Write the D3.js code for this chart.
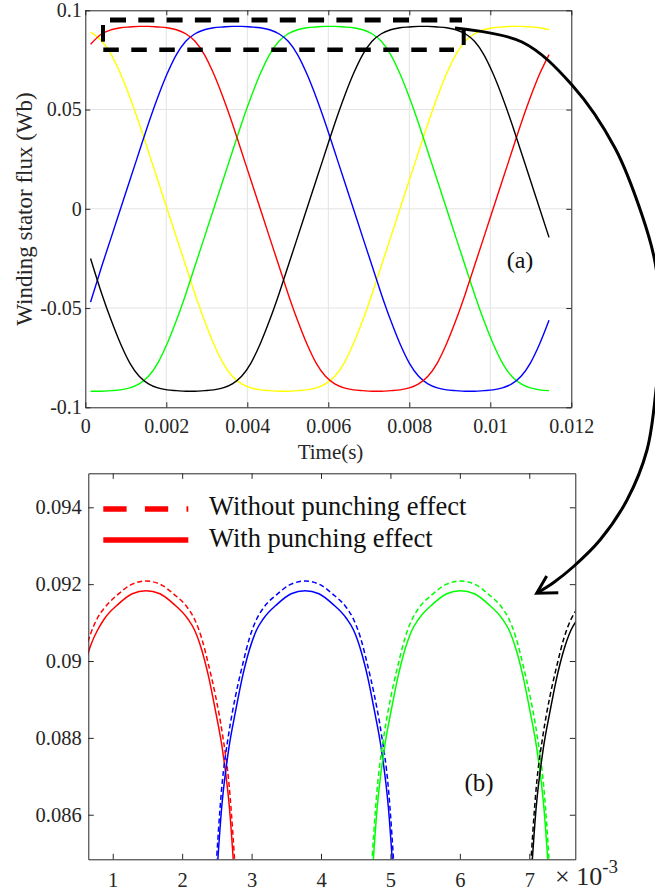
<!DOCTYPE html>
<html><head><meta charset="utf-8">
<script src="https://cdn.jsdelivr.net/npm/d3@7"></script>
<style>
body{margin:0;background:#fff;}
svg{display:block;}
svg text{font-family:"Liberation Serif","DejaVu Serif",serif;}
</style></head><body>
<svg id="c" width="655" height="894"></svg>
<script>
// ---------- Panel (a): winding stator flux vs time ----------
const timeA = [0.13,0.41,0.64,0.87,1.10,1.33,1.56,1.79,2.02,2.25,2.48,2.71,2.94,3.17,3.40,3.63,3.86,4.09,4.32,4.55,4.78,5.01,5.24,5.47,5.70,5.93,6.16,6.39,6.62,6.85,7.08,7.31,7.54,7.77,8.00,8.23,8.46,8.69,8.92,9.15,9.38,9.61,9.84,10.07,10.30,10.53,10.76,10.99,11.22,11.45]; // ms
const fluxRed = [0.0829,0.0882,0.0902,0.0912,0.0916,0.0919,0.0919,0.0916,0.0912,0.0902,0.0882,0.0844,0.0777,0.0680,0.0562,0.0430,0.0287,0.0144,0,-0.0144,-0.0287,-0.0430,-0.0562,-0.0680,-0.0777,-0.0844,-0.0882,-0.0902,-0.0912,-0.0916,-0.0919,-0.0919,-0.0916,-0.0912,-0.0902,-0.0882,-0.0844,-0.0777,-0.0680,-0.0562,-0.0430,-0.0287,-0.0144,0,0.0144,0.0287,0.0430,0.0562,0.0680,0.0777];
const fluxBlue = [-0.0470,-0.0287,-0.0144,0,0.0144,0.0287,0.0430,0.0562,0.0680,0.0777,0.0844,0.0882,0.0902,0.0912,0.0916,0.0919,0.0919,0.0916,0.0912,0.0902,0.0882,0.0844,0.0777,0.0680,0.0562,0.0430,0.0287,0.0144,0,-0.0144,-0.0287,-0.0430,-0.0562,-0.0680,-0.0777,-0.0844,-0.0882,-0.0902,-0.0912,-0.0916,-0.0919,-0.0919,-0.0916,-0.0912,-0.0902,-0.0882,-0.0844,-0.0777,-0.0680,-0.0562];
const fluxGreen = [-0.0919,-0.0919,-0.0916,-0.0912,-0.0902,-0.0882,-0.0844,-0.0777,-0.0680,-0.0562,-0.0430,-0.0287,-0.0144,0,0.0144,0.0287,0.0430,0.0562,0.0680,0.0777,0.0844,0.0882,0.0902,0.0912,0.0916,0.0919,0.0919,0.0916,0.0912,0.0902,0.0882,0.0844,0.0777,0.0680,0.0562,0.0430,0.0287,0.0144,0,-0.0144,-0.0287,-0.0430,-0.0562,-0.0680,-0.0777,-0.0844,-0.0882,-0.0902,-0.0912,-0.0916];
const fluxBlack = [-0.0250,-0.0430,-0.0562,-0.0680,-0.0777,-0.0844,-0.0882,-0.0902,-0.0912,-0.0916,-0.0919,-0.0919,-0.0916,-0.0912,-0.0902,-0.0882,-0.0844,-0.0777,-0.0680,-0.0562,-0.0430,-0.0287,-0.0144,0,0.0144,0.0287,0.0430,0.0562,0.0680,0.0777,0.0844,0.0882,0.0902,0.0912,0.0916,0.0919,0.0919,0.0916,0.0912,0.0902,0.0882,0.0844,0.0777,0.0680,0.0562,0.0430,0.0287,0.0144,0,-0.0144];
const fluxYellow = [0.0890,0.0844,0.0777,0.0680,0.0562,0.0430,0.0287,0.0144,0,-0.0144,-0.0287,-0.0430,-0.0562,-0.0680,-0.0777,-0.0844,-0.0882,-0.0902,-0.0912,-0.0916,-0.0919,-0.0919,-0.0916,-0.0912,-0.0902,-0.0882,-0.0844,-0.0777,-0.0680,-0.0562,-0.0430,-0.0287,-0.0144,0,0.0144,0.0287,0.0430,0.0562,0.0680,0.0777,0.0844,0.0882,0.0902,0.0912,0.0916,0.0919,0.0919,0.0916,0.0912,0.0902];
const xTicksA = [0,0.002,0.004,0.006,0.008,0.01,0.012];
const yTicksA = [-0.1,-0.05,0,0.05,0.1];

// ---------- Panel (b): zoom of the flux peaks (time in 1e-3 s) ----------
const bRedT   = [0.58,0.68,0.78,0.88,1.08,1.28,1.48,1.68,1.88,2.08,2.18,2.28,2.38,2.48,2.58,2.68,2.78];
const bRedWith    = [0.0898,0.0904,0.0908,0.0911,0.09148,0.09175,0.09183,0.09175,0.09148,0.0911,0.0908,0.0903,0.0896,0.0887,0.0877,0.0862,0.0836];
const bRedWithout = [0.0901,0.0907,0.09112,0.09138,0.09174,0.0920,0.09208,0.0920,0.09174,0.09138,0.09108,0.0906,0.0899,0.0891,0.0881,0.0867,0.0841];
const bBlueT  = [2.47,2.57,2.67,2.77,2.87,2.97,3.07,3.17,3.37,3.57,3.77,3.97,4.17,4.37,4.47,4.57,4.67,4.77,4.87,4.97,5.07];
const bBlueWith    = [0.0836,0.0862,0.0877,0.0887,0.0896,0.0903,0.0908,0.0911,0.09148,0.09175,0.09183,0.09175,0.09148,0.0911,0.0908,0.0903,0.0896,0.0887,0.0877,0.0862,0.0836];
const bBlueWithout = [0.0841,0.0867,0.0881,0.0891,0.0899,0.0906,0.09108,0.09138,0.09174,0.0920,0.09208,0.0920,0.09174,0.09138,0.09108,0.0906,0.0899,0.0891,0.0881,0.0867,0.0841];
const bGreenT = [4.71,4.81,4.91,5.01,5.11,5.21,5.31,5.41,5.61,5.81,6.01,6.21,6.41,6.61,6.71,6.81,6.91,7.01,7.11,7.21,7.31];
const bGreenWith    = [0.0836,0.0862,0.0877,0.0887,0.0896,0.0903,0.0908,0.0911,0.09148,0.09175,0.09183,0.09175,0.09148,0.0911,0.0908,0.0903,0.0896,0.0887,0.0877,0.0862,0.0836];
const bGreenWithout = [0.0841,0.0867,0.0881,0.0891,0.0899,0.0906,0.09108,0.09138,0.09174,0.0920,0.09208,0.0920,0.09174,0.09138,0.09108,0.0906,0.0899,0.0891,0.0881,0.0867,0.0841];
const bBlackT = [7.00,7.10,7.20,7.30,7.40,7.50,7.60,7.70];
const bBlackWith    = [0.0836,0.0862,0.0877,0.0887,0.0896,0.0903,0.0908,0.0911];
const bBlackWithout = [0.0841,0.0867,0.0881,0.0891,0.0899,0.0906,0.09108,0.09138];
const xTicksB = [1,2,3,4,5,6,7];
const yTicksB = [0.086,0.088,0.09,0.092,0.094];
const legendLabels = ["Without punching effect","With punching effect"];

const FONT = "Liberation Serif, DejaVu Serif, serif";
const svg = d3.select("#c");
const axisCol = "#262626";

// ===== Panel (a) =====
const xA = d3.scaleLinear().domain([0,0.012]).range([85.3,571.3]);
const yA = d3.scaleLinear().domain([-0.1,0.1]).range([407.3,10.3]);
const gA = svg.append("g");
// grid
gA.append("g").selectAll("line").data(xTicksA.slice(1,-1)).join("line")
  .attr("x1",d=>xA(d)).attr("x2",d=>xA(d)).attr("y1",yA(-0.1)).attr("y2",yA(0.1))
  .attr("stroke","#e3e3e3").attr("stroke-width",1);
gA.append("g").selectAll("line").data(yTicksA.slice(1,-1)).join("line")
  .attr("y1",d=>yA(d)).attr("y2",d=>yA(d)).attr("x1",xA(0)).attr("x2",xA(0.012))
  .attr("stroke","#e3e3e3").attr("stroke-width",1);

const lineA = d3.line().x(d=>xA(d[0]/1000)).y(d=>yA(d[1])).curve(d3.curveMonotoneX);
const seriesA = [
  {c:"#ffff00", v:fluxYellow},
  {c:"#00ff00", v:fluxGreen},
  {c:"#0000ff", v:fluxBlue},
  {c:"#ff0000", v:fluxRed},
  {c:"#000000", v:fluxBlack}
];
seriesA.forEach(s=>{
  gA.append("path").datum(timeA.map((t,i)=>[t,s.v[i]]))
    .attr("d",lineA).attr("fill","none").attr("stroke",s.c).attr("stroke-width",1.4);
});

function styleAxis(g){
  g.attr("font-family",FONT);
  g.select(".domain").attr("stroke",axisCol).attr("stroke-width",1);
  g.selectAll(".tick line").attr("stroke",axisCol).attr("stroke-width",1);
  g.selectAll("text").attr("fill",axisCol).attr("font-family",FONT);
}
const fmtA = d=> d===0 ? "0" : String(d);
gA.append("g").attr("transform",`translate(0,${yA(-0.1)})`)
  .call(d3.axisBottom(xA).tickValues(xTicksA).tickFormat(fmtA).tickSizeInner(-5).tickSizeOuter(0).tickPadding(11.5))
  .call(styleAxis).selectAll("text").attr("font-size",20);
gA.append("g").attr("transform",`translate(${xA(0)},0)`)
  .call(d3.axisLeft(yA).tickValues(yTicksA).tickFormat(fmtA).tickSizeInner(-5).tickSizeOuter(0).tickPadding(3.5))
  .call(styleAxis).selectAll("text").attr("font-size",20);
gA.append("g").attr("transform",`translate(0,${yA(0.1)})`)
  .call(d3.axisTop(xA).tickValues(xTicksA).tickFormat("").tickSizeInner(-5).tickSizeOuter(0)).call(styleAxis);
gA.append("g").attr("transform",`translate(${xA(0.012)},0)`)
  .call(d3.axisRight(yA).tickValues(yTicksA).tickFormat("").tickSizeInner(-5).tickSizeOuter(0)).call(styleAxis);

gA.append("text").attr("x",330.5).attr("y",459).attr("text-anchor","middle")
  .attr("font-size",21).attr("fill",axisCol).text("Time(s)");
gA.append("text").attr("transform","translate(32,209) rotate(-90)").attr("text-anchor","middle")
  .attr("font-size",23).attr("fill",axisCol).text("Winding stator flux (Wb)");
gA.append("text").attr("x",520).attr("y",268).attr("text-anchor","middle")
  .attr("font-size",24).attr("fill","#111").text("(a)");

// dashed zoom box in panel (a)
const boxG = gA.append("g").attr("stroke","#000").attr("fill","none");
boxG.append("line").attr("x1",110).attr("x2",462).attr("y1",20).attr("y2",20)
  .attr("stroke-width",4.8).attr("stroke-dasharray","16,12.3");
boxG.append("line").attr("x1",103.3).attr("x2",454).attr("y1",49.7).attr("y2",49.7)
  .attr("stroke-width",4.6).attr("stroke-dasharray","15.5,12.5");
boxG.append("line").attr("x1",103).attr("x2",103).attr("y1",25).attr("y2",41.7).attr("stroke-width",4);
boxG.append("line").attr("x1",463.7).attr("x2",463.7).attr("y1",30).attr("y2",45).attr("stroke-width",4);

// ===== Panel (b) =====
const xB = d3.scaleLinear().domain([0.648,7.663]).range([88.3,575.3]);
const yB = d3.scaleLinear().domain([0.08484,0.094885]).range([859.3,473.3]);
const gB = svg.append("g");
svg.append("defs").append("clipPath").attr("id","clipB").append("rect")
  .attr("x",xB(0.648)).attr("y",yB(0.094885)).attr("width",xB(7.663)-xB(0.648)).attr("height",yB(0.08484)-yB(0.094885));
const lineB = d3.line().x(d=>xB(d[0])).y(d=>yB(d[1])).curve(d3.curveMonotoneX);
const plotB = gB.append("g").attr("clip-path","url(#clipB)");
const seriesB = [
  {c:"#ff0000", t:bRedT, w:bRedWith, wo:bRedWithout},
  {c:"#0000ff", t:bBlueT, w:bBlueWith, wo:bBlueWithout},
  {c:"#00ff00", t:bGreenT, w:bGreenWith, wo:bGreenWithout},
  {c:"#000000", t:bBlackT, w:bBlackWith, wo:bBlackWithout}
];
seriesB.forEach(s=>{
  plotB.append("path").datum(s.t.map((t,i)=>[t,s.wo[i]])).attr("d",lineB)
    .attr("fill","none").attr("stroke",s.c).attr("stroke-width",1.5).attr("stroke-dasharray","5,3");
  plotB.append("path").datum(s.t.map((t,i)=>[t,s.w[i]])).attr("d",lineB)
    .attr("fill","none").attr("stroke",s.c).attr("stroke-width",1.5);
});
const fmtB = d=> String(+d.toFixed(3));
gB.append("g").attr("transform",`translate(0,${yB(0.08484)})`)
  .call(d3.axisBottom(xB).tickValues(xTicksB).tickFormat(d3.format("d")).tickSizeInner(-5.5).tickSizeOuter(0).tickPadding(13))
  .call(styleAxis).selectAll("text").attr("font-size",20.5);
gB.append("g").attr("transform",`translate(${xB(0.648)},0)`)
  .call(d3.axisLeft(yB).tickValues(yTicksB).tickFormat(fmtB).tickSizeInner(-5.5).tickSizeOuter(0).tickPadding(6.6))
  .call(styleAxis).selectAll("text").attr("font-size",20.5);
gB.append("g").attr("transform",`translate(0,${yB(0.094885)})`)
  .call(d3.axisTop(xB).tickValues(xTicksB).tickFormat("").tickSizeInner(-5.5).tickSizeOuter(0)).call(styleAxis);
gB.append("g").attr("transform",`translate(${xB(7.663)},0)`)
  .call(d3.axisRight(yB).tickValues(yTicksB).tickFormat("").tickSizeInner(-5.5).tickSizeOuter(0)).call(styleAxis);

// x10^-3 exponent label
const expT = gB.append("text").attr("x",555).attr("y",885).attr("fill",axisCol).attr("font-size",26);
expT.append("tspan").text("× 10");
expT.append("tspan").attr("font-size",19).attr("dy",-12).text("-3");

gB.append("text").attr("x",479).attr("y",791).attr("text-anchor","middle")
  .attr("font-size",25).attr("fill","#111").text("(b)");

// legend
const lg = gB.append("g");
lg.append("line").attr("x1",103.3).attr("x2",188.3).attr("y1",509).attr("y2",509)
  .attr("stroke","#ff0000").attr("stroke-width",5.5).attr("stroke-dasharray","23.3,18.3");
lg.append("line").attr("x1",103.3).attr("x2",188.3).attr("y1",540).attr("y2",540)
  .attr("stroke","#ff0000").attr("stroke-width",5.5);
lg.selectAll("text").data(legendLabels).join("text")
  .attr("x",209).attr("y",(d,i)=>515+i*32).attr("font-size",26.5).attr("fill","#111").text(d=>d);

// ===== curved arrow linking (a) box to (b) =====
const arrowPts = [[455,28],[522,42],[572,85],[615,148],[642,215],[655,262],[661,325],[656,390],[647,450],[627,500],[600,540],[573,567],[553,583],[537,593]];
svg.append("path").datum(arrowPts).attr("d",d3.line().curve(d3.curveCatmullRom))
  .attr("fill","none").attr("stroke","#000").attr("stroke-width",3);
svg.append("path").attr("d","M546.7,576 L536.7,593.3 L558.3,592.7")
  .attr("fill","none").attr("stroke","#000").attr("stroke-width",3).attr("stroke-linejoin","miter");
</script>
</body></html>
